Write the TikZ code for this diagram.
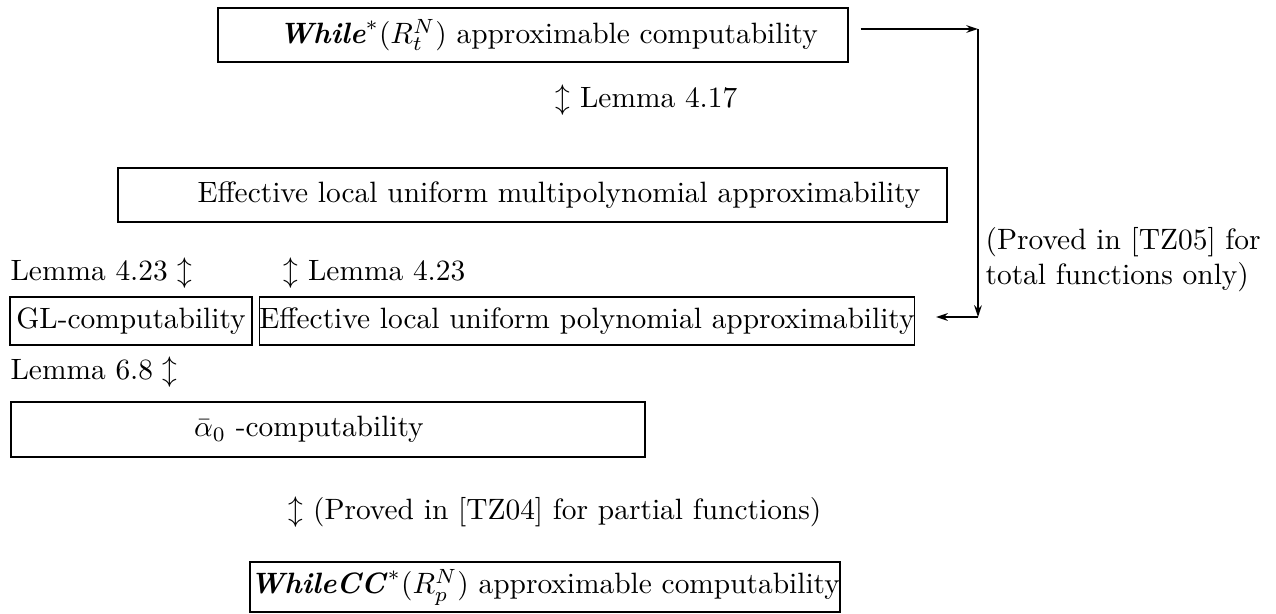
\documentclass[tikz,border=0pt]{standalone}
\usepackage{amsmath}
\usetikzlibrary{arrows.meta}
\newcommand{\bw}[1]{\textbf{\textit{#1}}}
\begin{document}
\begin{tikzpicture}[x=0.34pt,y=-0.34pt,
  box/.style={draw,line width=0.6pt,inner sep=0pt,font=\normalsize},
  lbl/.style={inner sep=0pt,anchor=west},
  conn/.style={line width=0.6pt,-{Stealth[length=4pt,width=2.6pt]}}]
\useasboundingbox (0,0) rectangle (1276,613);
\node[box,minimum width={630*0.34pt},minimum height={54*0.34pt}] (b1) at (533,35)
  {\hspace{10.5pt}$\bw{While}^*(R_t^N)$ approximable computability};
\node[box,minimum width={829*0.34pt},minimum height={54*0.34pt}] (b2) at (532.5,195)
  {\hspace{18pt}Effective local uniform multipolynomial approximability};
\node[box,minimum width={242*0.34pt},minimum height={48*0.34pt}] (b3) at (131,321)
  {GL-computability};
\node[box,minimum width={652*0.34pt},minimum height={48*0.34pt}] (b4) at (587,321)
  {Effective local uniform polynomial approximability};
\node[box,minimum width={634*0.34pt},minimum height={55*0.34pt}] (b5) at (328,429.5)
  {\hspace{-13pt}$\bar{\alpha}_0$ -computability};
\node[box,minimum width={590*0.34pt},minimum height={50*0.34pt}] (b6) at (545,587)
  {$\bw{WhileCC}^*(R_p^N)$ approximable computability};
\node[lbl] (l1) at (555,100) {$\updownarrow$ Lemma 4.17};
\node[lbl] (l2) at (10,273) {Lemma 4.23 $\updownarrow$};
\node[lbl] (l3) at (283,273) {$\updownarrow$ Lemma 4.23};
\node[lbl] (l4) at (10,372) {Lemma 6.8 $\updownarrow$};
\node[lbl] (l5) at (288,512) {$\updownarrow$ (Proved in [TZ04] for partial functions)};
\node[lbl,align=left] (l6) at (985,259.5) {(Proved in [TZ05] for\\total functions only)};
\coordinate (c1) at (978,29);
\coordinate (c2) at (978,317);
\draw[conn] ([xshift=4pt]b1.east |- c1) -- (c1);
\draw[conn] (c1) -- (c2);
\draw[conn] (c2) -- ([xshift=7pt]b4.east |- c2);
\end{tikzpicture}
\end{document}
